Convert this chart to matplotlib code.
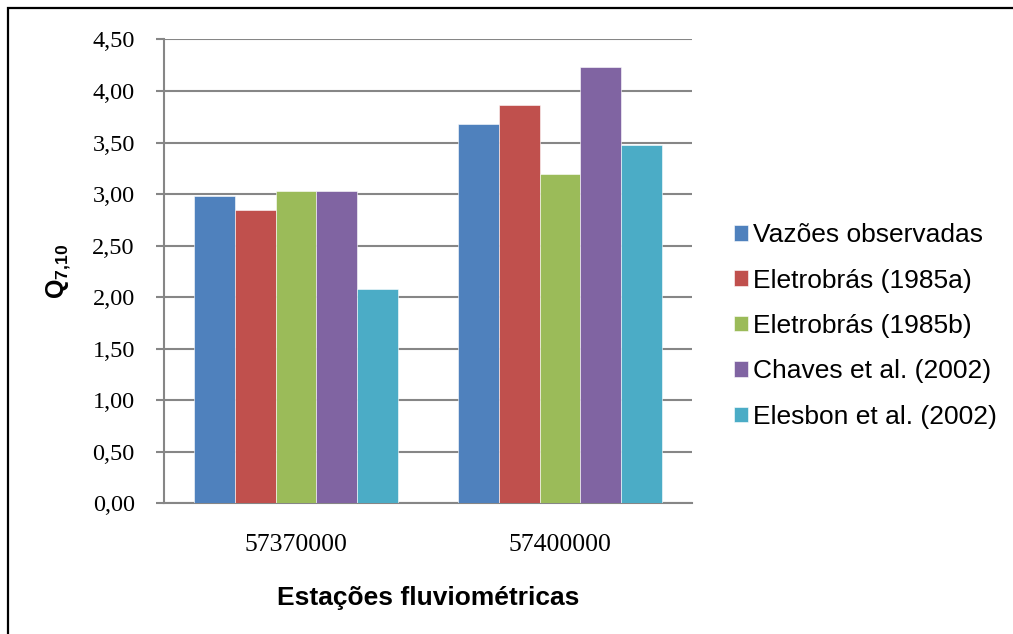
import matplotlib.pyplot as plt
from matplotlib.patches import Rectangle
import numpy as np

plt.rcParams['mathtext.fontset'] = 'custom'
plt.rcParams['mathtext.bf'] = 'Liberation Sans:bold'
plt.rcParams['mathtext.rm'] = 'Liberation Sans'

stations = ['57370000', '57400000']
series = ['Vazões observadas', 'Eletrobrás (1985a)', 'Eletrobrás (1985b)',
          'Chaves et al. (2002)', 'Elesbon et al. (2002)']
observed = [2.98, 3.68]
eletro_a = [2.84, 3.86]
eletro_b = [3.03, 3.19]
chaves = [3.03, 4.23]
elesbon = [2.08, 3.48]
yticks = [0.0, 0.5, 1.0, 1.5, 2.0, 2.5, 3.0, 3.5, 4.0, 4.5]

colors = ['#4F81BD', '#C0504D', '#9BBB59', '#8064A2', '#4BACC6']
values = [observed, eletro_a, eletro_b, chaves, elesbon]

fig = plt.figure(figsize=(10.13, 6.34), dpi=100)
ax = fig.add_axes([0.1619, 0.2066, 0.5212, 0.7311])

x = np.arange(len(stations))
w = 1 / 6.5
for i, (name, vals, c) in enumerate(zip(series, values, colors)):
    ax.bar(x + (i - 2) * w, vals, width=w, color=c, label=name,
           edgecolor='white', linewidth=0.4, zorder=3)

ax.set_xlim(-0.5, 1.5)
ax.set_ylim(0, 4.5)
ax.set_yticks(yticks)
ax.set_yticklabels([f'{v:.2f}'.replace('.', ',') for v in yticks],
                   family='Liberation Serif', fontsize=17.5)
ax.set_xticks(x)
ax.set_xticklabels(stations, family='Liberation Serif', fontsize=18.5)
ax.tick_params(axis='x', length=0, pad=22)
ax.tick_params(axis='y', length=6, color='#868686', width=1.5, pad=15)

ax.yaxis.grid(True, color='#868686', linewidth=1.5, zorder=0)
ax.set_axisbelow(True)
for s in ['top', 'right']:
    ax.spines[s].set_visible(False)
for s in ['left', 'bottom']:
    ax.spines[s].set_color('#868686')
    ax.spines[s].set_linewidth(1.5)

ax.set_ylabel(r'$\mathbf{Q}_{\mathbf{7{,}10}}$', fontsize=18, labelpad=14)
ax.set_xlabel('Estações fluviométricas', family='Liberation Sans',
              fontweight='bold', fontsize=19, labelpad=22)

ax.legend(loc='center left', bbox_to_anchor=(734 / 1013, 1 - 326 / 634),
          bbox_transform=fig.transFigure, frameon=False,
          prop={'family': 'Liberation Sans', 'size': 19},
          borderpad=0, borderaxespad=0,
          handlelength=0.53, handleheight=0.53, handletextpad=0.2,
          labelspacing=0.81)

fig.patches.append(Rectangle((8 / 1013, -0.1), 1.2, 1.1 - 8 / 634,
                             transform=fig.transFigure, fill=False,
                             edgecolor='black', linewidth=1.6))

fig.savefig('out.png', dpi=100)
